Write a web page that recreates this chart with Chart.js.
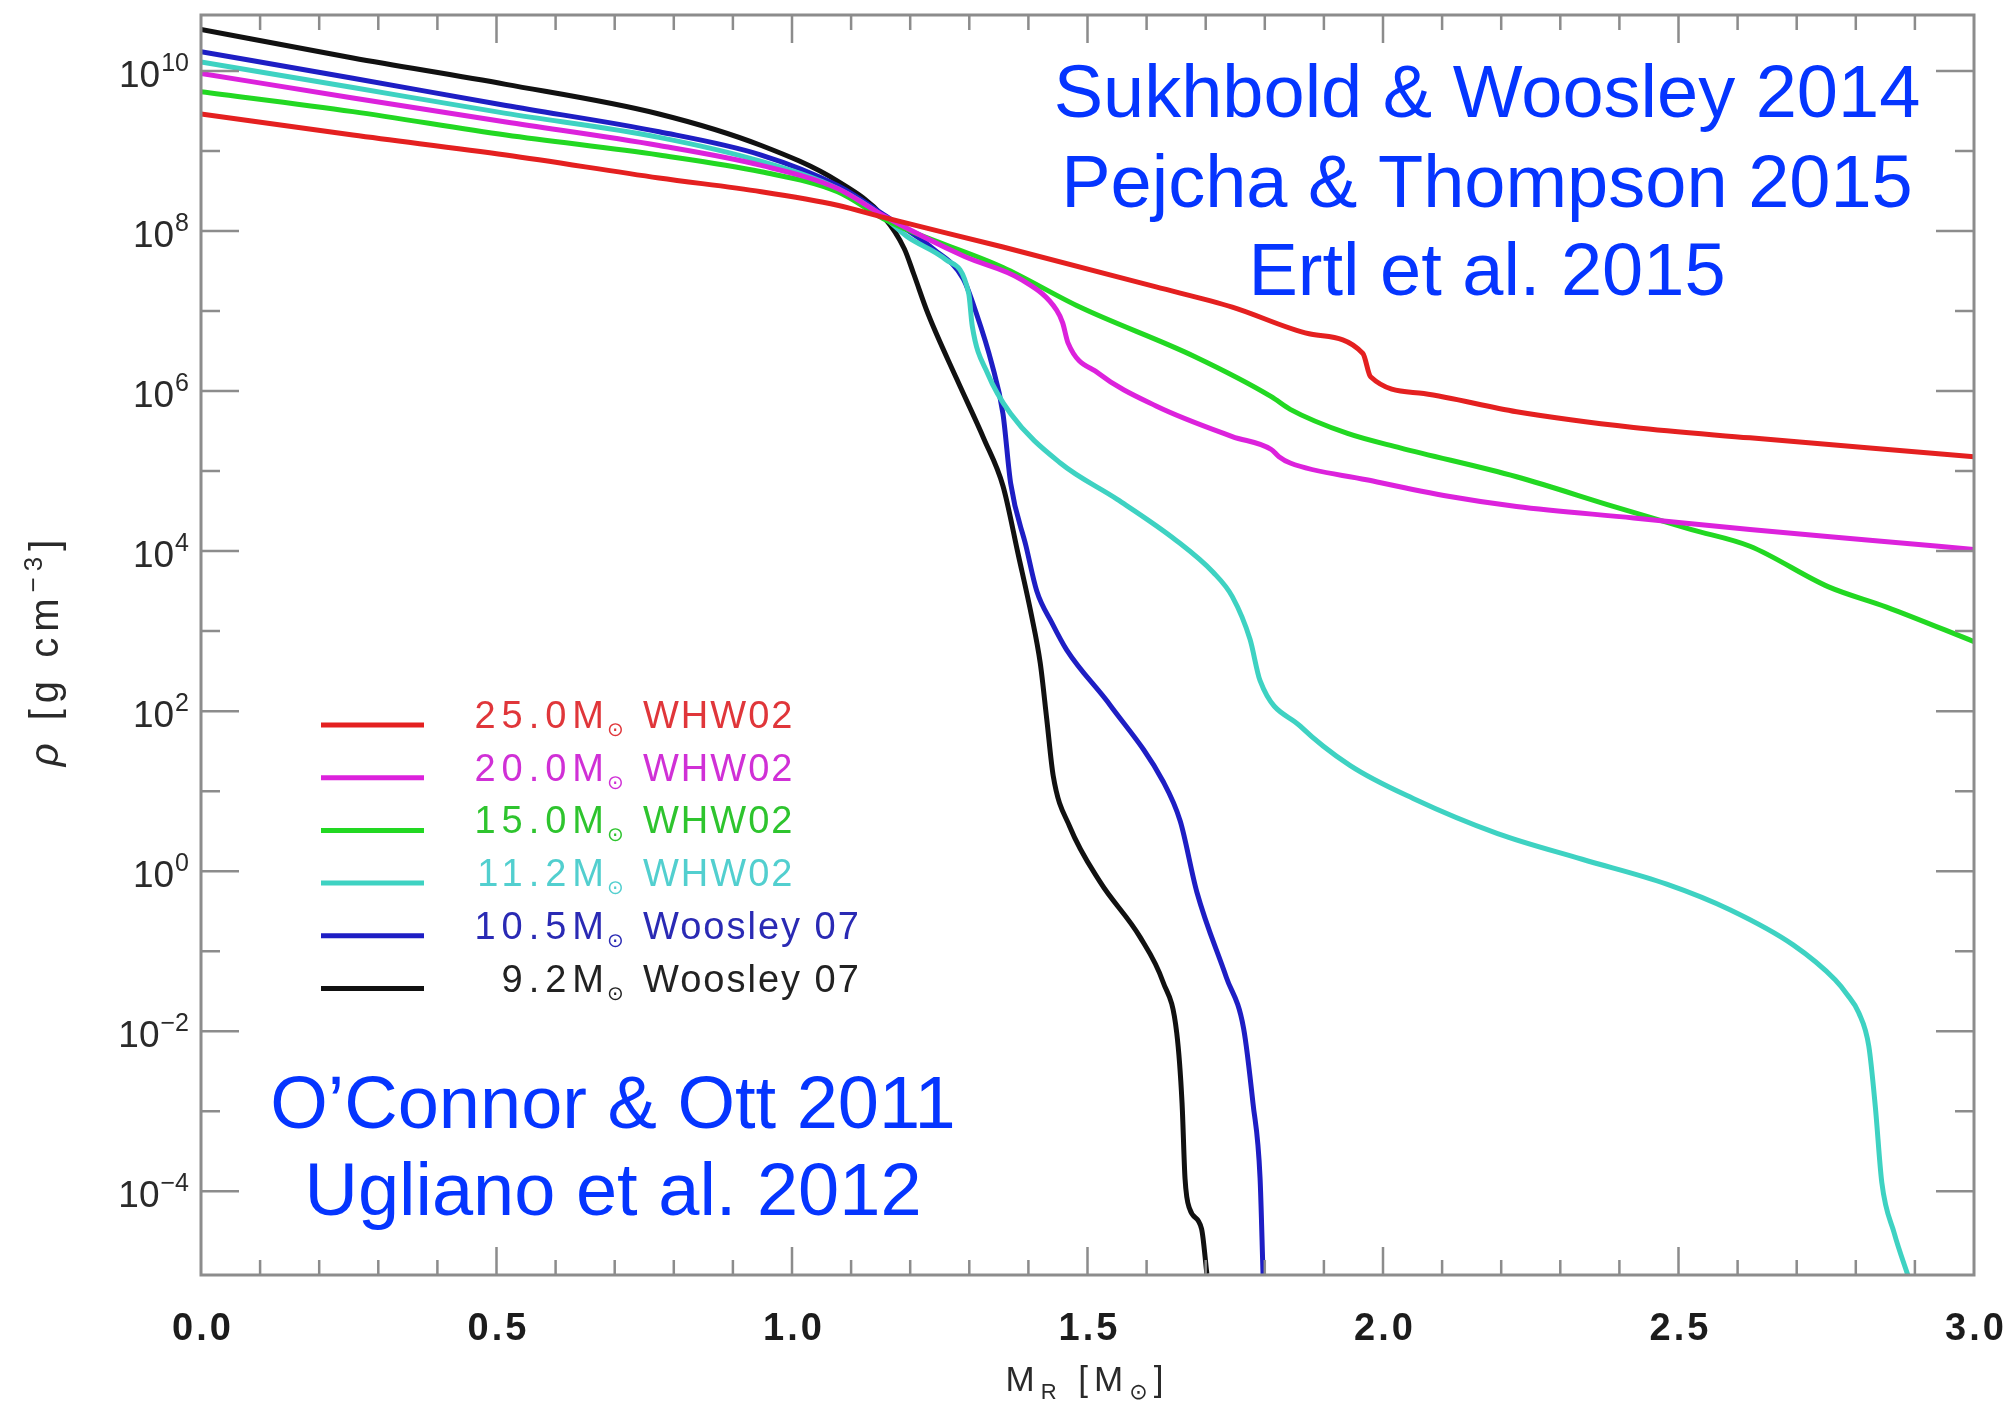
<!DOCTYPE html>
<html>
<head>
<meta charset="utf-8">
<title>Presupernova density profiles</title>
<script src="https://cdn.jsdelivr.net/npm/chart.js@4.4.1/dist/chart.umd.min.js"></script>
<style>
    html, body { margin: 0; padding: 0; background: #fff; }
    #wrap { width: 2010px; height: 1405px; }
</style>
</head>
<body>
<div id="wrap"><canvas id="densityChart" width="2010" height="1405"></canvas></div>
<script>
// enclosed mass M_R [Msun] and density rho [g cm^-3]
const mass25 = [0, 0.257, 0.516, 0.775, 0.948, 1.077, 1.155, 1.357, 1.616, 1.745, 1.875, 1.966, 1.979, 2.069, 2.226, 2.424, 2.621, 2.819, 3.0];
const rho25 = [2.9e9, 1.58e9, 8.9e8, 4.6e8, 3.1e8, 2.1e8, 1.48e8, 6.3e7, 2.0e7, 1.12e7, 5.2e6, 2.95e6, 1.51e6, 9.3e5, 5.5e5, 3.5e5, 2.6e5, 1.95e5, 1.51e5];

const mass20 = [0, 0.257, 0.516, 0.775, 0.948, 1.077, 1.155, 1.292, 1.389, 1.448, 1.458, 1.467, 1.519, 1.616, 1.745, 1.811, 1.824, 1.843, 1.972, 2.113, 2.226, 2.424, 2.621, 2.819, 3.0];
const rho20 = [9.3e9, 4.6e9, 2.3e9, 1.17e9, 6.6e8, 3.4e8, 1.55e8, 4.8e7, 2.45e7, 1.02e7, 7.1e6, 4.0e6, 1.66e6, 6.5e5, 2.7e5, 1.86e5, 1.51e5, 1.26e5, 7.8e4, 4.8e4, 3.6e4, 2.6e4, 1.86e4, 1.38e4, 1.05e4];

const mass15 = [0, 0.257, 0.516, 0.775, 0.948, 1.077, 1.163, 1.357, 1.487, 1.681, 1.811, 1.843, 1.940, 2.029, 2.226, 2.391, 2.522, 2.621, 2.753, 2.852, 3.0];
const rho15 = [5.5e9, 3.1e9, 1.58e9, 8.9e8, 5.5e8, 3.1e8, 1.32e8, 3.5e7, 1.12e7, 2.7e6, 8.5e5, 5.9e5, 2.95e5, 1.95e5, 8.5e4, 3.6e4, 1.86e4, 1.15e4, 3.6e3, 2.0e3, 7.4e2];

const mass11 = [0, 0.257, 0.516, 0.775, 0.948, 1.077, 1.155, 1.195, 1.260, 1.299, 1.305, 1.331, 1.370, 1.454, 1.551, 1.649, 1.713, 1.745, 1.775, 1.792, 1.860, 1.944, 2.051, 2.194, 2.337, 2.480, 2.587, 2.694, 2.765, 2.785, 2.805, 2.822, 2.833, 2.844, 2.865, 2.890];
const rho11 = [1.29e10, 6.2e9, 2.95e9, 1.48e9, 7.4e8, 3.4e8, 1.5e8, 8.5e7, 4.4e7, 1.66e7, 6.5e6, 1.66e6, 5.2e5, 1.26e5, 4.4e4, 1.38e4, 5.4e3, 2.7e3, 7.9e2, 2.4e2, 65, 21, 8.1, 2.95, 1.41, 0.69, 0.33, 0.12, 0.044, 0.029, 0.017, 6.5e-3, 1.15e-3, 1.29e-4, 3.0e-5, 8.1e-6];

const mass10 = [0, 0.257, 0.516, 0.775, 0.948, 1.077, 1.155, 1.240, 1.290, 1.312, 1.338, 1.357, 1.370, 1.396, 1.414, 1.440, 1.465, 1.539, 1.628, 1.657, 1.685, 1.735, 1.764, 1.780, 1.792, 1.797];
const rho10 = [1.74e10, 8.1e9, 3.7e9, 1.74e9, 8.9e8, 3.7e8, 1.6e8, 5.9e7, 2.5e7, 9.3e6, 2.2e6, 5.2e5, 7.0e4, 1.15e4, 3.2e3, 1.26e3, 5.8e2, 117, 13.2, 4.2, 0.55, 0.047, 0.011, 1.26e-3, 1.45e-4, 9.3e-6];

const mass9 = [0, 0.257, 0.516, 0.775, 0.948, 1.077, 1.155, 1.190, 1.206, 1.230, 1.279, 1.325, 1.357, 1.383, 1.405, 1.420, 1.431, 1.442, 1.470, 1.521, 1.589, 1.628, 1.651, 1.660, 1.665, 1.673, 1.693, 1.702];
const rho9 = [3.3e10, 1.45e10, 6.8e9, 2.9e9, 1.17e9, 4.2e8, 1.5e8, 6.0e7, 2.9e7, 9.3e6, 1.4e6, 2.5e5, 6.5e4, 8.9e3, 1.6e3, 4.0e2, 80, 15.5, 3.6, 0.74, 0.15, 0.041, 9.5e-3, 1.26e-3, 1.45e-4, 6.0e-5, 3.4e-5, 9.3e-6];

// legend rows, same order as the datasets
const legendMasses = ['25.0', '20.0', '15.0', '11.2', '10.5', '9.2'];
const legendSources = ['WHW02', 'WHW02', 'WHW02', 'WHW02', 'Woosley 07', 'Woosley 07'];
const lineColors = ['#e42020', '#dc22dc', '#22d822', '#3ed2c2', '#1e1ec4', '#111111'];
const textColors = ['#e0363a', '#d030d6', '#2ec42e', '#52cfcf', '#2a2ab4', '#222222'];

// axis ticks
const xTickValues = [0, 0.5, 1, 1.5, 2, 2.5, 3];
const xTickLabels = ['0.0', '0.5', '1.0', '1.5', '2.0', '2.5', '3.0'];
const yTickValues = [1e10, 1e8, 1e6, 1e4, 1e2, 1e0, 1e-2, 1e-4];
const yTickExponents = ['10', '8', '6', '4', '2', '0', '−2', '−4'];
const yMinorValues = [1e9, 1e7, 1e5, 1e3, 1e1, 1e-1, 1e-3];

// literature notes
const topNotes = ['Sukhbold & Woosley 2014', 'Pejcha & Thompson 2015', 'Ertl et al. 2015'];
const bottomNotes = ['O’Connor & Ott 2011', 'Ugliano et al. 2012'];

const FONT = '"Liberation Sans", Arial, sans-serif';

function toPoints(xs, ys) {
    return xs.map((x, i) => ({ x: x, y: ys[i] }));
}

// draw a row of text pieces (for sub/superscripts) centred on cx
function drawRuns(ctx, runs, cx, baseY, spacing) {
    ctx.letterSpacing = spacing + 'px';
    let total = 0;
    runs.forEach(r => {
        ctx.font = r.font;
        r.w = ctx.measureText(r.text).width;
        total += r.w;
    });
    let xPos = cx - total / 2;
    ctx.textAlign = 'left';
    ctx.textBaseline = 'alphabetic';
    runs.forEach(r => {
        ctx.font = r.font;
        ctx.fillText(r.text, xPos, baseY + (r.dy || 0));
        xPos += r.w;
    });
    ctx.letterSpacing = '0px';
}

const figurePlugin = {
    id: 'figureDecor',
    afterDraw(chart) {
        const { ctx, chartArea: a } = chart;
        const xs = chart.scales.x;
        const ys = chart.scales.y;
        ctx.save();

        // frame
        ctx.strokeStyle = '#8c8c8c';
        ctx.lineWidth = 3;
        ctx.strokeRect(a.left, a.top, a.right - a.left, a.bottom - a.top);

        // inward ticks on all four sides
        ctx.lineWidth = 2.5;
        ctx.beginPath();
        for (let k = 1; k < 30; k++) {
            const px = xs.getPixelForValue(k / 10);
            const len = k % 5 === 0 ? 28 : 15;
            ctx.moveTo(px, a.bottom); ctx.lineTo(px, a.bottom - len);
            ctx.moveTo(px, a.top); ctx.lineTo(px, a.top + len);
        }
        yTickValues.forEach(v => {
            const py = ys.getPixelForValue(v);
            ctx.moveTo(a.left, py); ctx.lineTo(a.left + 38, py);
            ctx.moveTo(a.right, py); ctx.lineTo(a.right - 38, py);
        });
        yMinorValues.forEach(v => {
            const py = ys.getPixelForValue(v);
            ctx.moveTo(a.left, py); ctx.lineTo(a.left + 19, py);
            ctx.moveTo(a.right, py); ctx.lineTo(a.right - 19, py);
        });
        ctx.stroke();

        // x tick labels
        ctx.fillStyle = '#1c1c1c';
        ctx.font = 'bold 38px ' + FONT;
        ctx.letterSpacing = '3px';
        ctx.textAlign = 'center';
        ctx.textBaseline = 'alphabetic';
        xTickValues.forEach((v, i) => {
            ctx.fillText(xTickLabels[i], xs.getPixelForValue(v) + 2, 1340);
        });
        ctx.letterSpacing = '0px';

        // y tick labels: 10 with superscript exponent
        ctx.fillStyle = '#2a2a2a';
        yTickValues.forEach((v, i) => {
            const py = ys.getPixelForValue(v);
            ctx.textAlign = 'right';
            ctx.font = '25px ' + FONT;
            const supW = ctx.measureText(yTickExponents[i]).width;
            ctx.fillText(yTickExponents[i], 189, py);
            ctx.font = '37px ' + FONT;
            ctx.fillText('10', 189 - supW - 1, py + 16);
        });

        // axis titles
        ctx.fillStyle = '#2a2a2a';
        drawRuns(ctx, [
            { text: 'M', font: '35px ' + FONT },
            { text: 'R', font: '22px ' + FONT, dy: 8 },
            { text: ' [M', font: '35px ' + FONT },
            { text: '⊙', font: '22px "DejaVu Sans"', dy: 8 },
            { text: ']', font: '35px ' + FONT }
        ], (a.left + a.right) / 2, 1391, 6);

        ctx.save();
        ctx.translate(58, (a.top + a.bottom) / 2 + 5);
        ctx.rotate(-Math.PI / 2);
        drawRuns(ctx, [
            { text: 'ρ', font: 'italic 40px ' + FONT },
            { text: ' [g cm', font: '40px ' + FONT },
            { text: '−3', font: '26px ' + FONT, dy: -16 },
            { text: ']', font: '40px ' + FONT }
        ], 0, 0, 6);
        ctx.restore();

        // legend inside the plot
        chart.data.datasets.forEach((ds, i) => {
            const ly = 725 + i * 52.7;
            ctx.strokeStyle = ds.borderColor;
            ctx.lineWidth = 5;
            ctx.beginPath();
            ctx.moveTo(321, ly);
            ctx.lineTo(424, ly);
            ctx.stroke();

            ctx.fillStyle = textColors[i];
            ctx.textAlign = 'right';
            ctx.font = '38px ' + FONT;
            ctx.letterSpacing = '6px';
            ctx.fillText(legendMasses[i] + 'M', 610, ly + 3);
            ctx.letterSpacing = '0px';
            ctx.textAlign = 'left';
            ctx.font = '20px "DejaVu Sans"';
            ctx.fillText('⊙', 607, ly + 11);
            ctx.font = '38px ' + FONT;
            ctx.letterSpacing = '2px';
            ctx.fillText(legendSources[i], 643, ly + 3);
            ctx.letterSpacing = '0px';
        });

        // literature notes
        ctx.fillStyle = '#0535ff';
        ctx.font = '74px ' + FONT;
        ctx.textAlign = 'center';
        [117, 207, 295].forEach((by, i) => ctx.fillText(topNotes[i], 1487, by));
        [1128, 1215].forEach((by, i) => ctx.fillText(bottomNotes[i], 613, by));

        ctx.restore();
    }
};

document.addEventListener('DOMContentLoaded', () => {
    const ctx = document.getElementById('densityChart').getContext('2d');

    const series = [
        [mass25, rho25], [mass20, rho20], [mass15, rho15],
        [mass11, rho11], [mass10, rho10], [mass9, rho9]
    ];

    const datasets = series.map((s, i) => ({
        label: legendMasses[i] + 'M⊙ ' + legendSources[i],
        data: toPoints(s[0], s[1]),
        borderColor: lineColors[i],
        backgroundColor: lineColors[i],
        borderWidth: 5,
        pointRadius: 0,
        fill: false,
        cubicInterpolationMode: 'monotone'
    }));

    new Chart(ctx, {
        type: 'line',
        data: { datasets: datasets },
        options: {
            responsive: false,
            animation: false,
            devicePixelRatio: 1,
            layout: { padding: { left: 0, right: 36, top: 15, bottom: 0 } },
            plugins: {
                legend: { display: false },
                tooltip: { enabled: false }
            },
            scales: {
                x: {
                    type: 'linear',
                    min: 0,
                    max: 3,
                    ticks: { display: false },
                    grid: { display: false },
                    border: { display: false },
                    afterFit: scale => { scale.height = 130; }
                },
                y: {
                    type: 'logarithmic',
                    min: 9e-6,
                    max: 5e10,
                    ticks: { display: false },
                    grid: { display: false },
                    border: { display: false },
                    afterFit: scale => { scale.width = 201; }
                }
            }
        },
        plugins: [figurePlugin]
    });
});
</script>
</body>
</html>
